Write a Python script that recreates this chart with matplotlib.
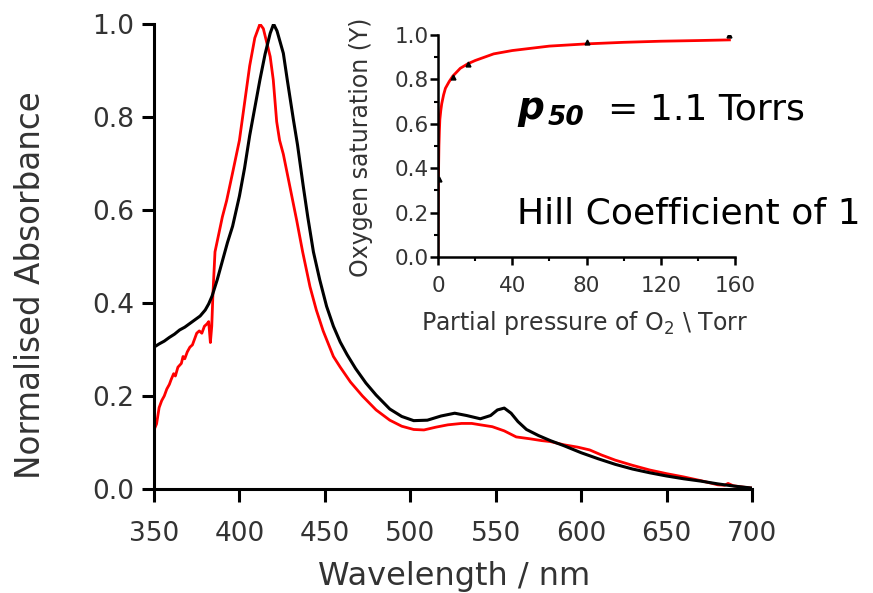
import matplotlib
matplotlib.use("Agg")
import matplotlib.pyplot as plt
from matplotlib.ticker import MultipleLocator

# ---- main spectra (wavelength / nm, normalised absorbance) ----
wl_black = [350, 353, 356, 359, 362, 365, 368, 371, 374, 377, 380, 382, 384, 387, 390,
            393, 396, 400, 403, 406, 409, 412, 415, 418, 420, 422, 425.7, 428, 431.6, 434,
            437.4, 440, 443.3, 447, 451, 455, 459, 463, 468, 474, 480, 488, 495, 502, 510,
            518, 526, 533, 541, 547, 551, 555, 559, 563, 568, 575, 582, 590, 600, 610,
            620, 630, 640, 650, 660, 670, 680, 690, 700]
abs_black = [0.305, 0.312, 0.318, 0.326, 0.333, 0.342, 0.348, 0.356, 0.364, 0.372, 0.385, 0.398,
             0.415, 0.45, 0.49, 0.53, 0.565, 0.63, 0.69, 0.76, 0.82, 0.88, 0.935, 0.98, 1.0,
             0.985, 0.937, 0.88, 0.794, 0.74, 0.65, 0.585, 0.51, 0.45, 0.393, 0.35, 0.316,
             0.289, 0.259, 0.228, 0.202, 0.172, 0.156, 0.147, 0.148, 0.157, 0.163, 0.158, 0.151,
             0.158, 0.17, 0.174, 0.163, 0.145, 0.128, 0.115, 0.104, 0.093, 0.078, 0.065,
             0.053, 0.043, 0.035, 0.028, 0.022, 0.017, 0.011, 0.006, 0.002]

wl_red = [350, 351.5, 353, 354.5, 356, 357.5, 359, 360, 361.5, 362.5, 364, 366, 367, 368,
          369.5, 371, 372.5, 374, 375, 376.5, 378, 379.5, 381, 382, 383, 383.8, 384.5, 385.7,
          388, 390, 392.5, 396, 400, 403, 406, 409, 412, 414, 416, 418, 419.8, 421.8, 423.5,
          425.7, 429, 433.5, 437, 441.3, 445, 449, 455, 459, 465, 472, 480, 488, 495, 502,
          508, 515, 522, 530, 536, 541, 548, 555, 562, 570, 577, 582, 590, 598, 605, 612,
          620, 630, 640, 650, 660, 670, 680, 684, 686, 689, 695, 700]
abs_red = [0.127, 0.14, 0.175, 0.19, 0.2, 0.215, 0.225, 0.235, 0.248, 0.243, 0.262, 0.27,
           0.285, 0.28, 0.295, 0.305, 0.31, 0.325, 0.335, 0.34, 0.335, 0.35, 0.355, 0.36,
           0.315, 0.35, 0.42, 0.51, 0.55, 0.585, 0.62, 0.68, 0.75, 0.83, 0.91, 0.97, 1.0,
           0.99, 0.96, 0.93, 0.88, 0.79, 0.75, 0.72, 0.66, 0.578, 0.51, 0.435, 0.385, 0.34,
           0.285, 0.262, 0.23, 0.2, 0.17, 0.148, 0.135, 0.128, 0.127, 0.133, 0.138, 0.141,
           0.141, 0.138, 0.134, 0.125, 0.112, 0.108, 0.104, 0.102, 0.095, 0.09, 0.084, 0.073,
           0.062, 0.051, 0.041, 0.033, 0.026, 0.018, 0.009, 0.008, 0.012, 0.007, 0.004, 0.002]

# ---- inset: oxygen binding curve ----
po2_fit = [0, 0.1, 0.2, 0.35, 0.5, 0.75, 1, 1.5, 2, 3, 4, 6, 8, 12, 16, 20, 30, 40, 60,
           80, 100, 120, 140, 157]
sat_fit = [0, 0.18, 0.3, 0.42, 0.5, 0.57, 0.62, 0.66, 0.69, 0.73, 0.76, 0.79, 0.815, 0.85,
           0.87, 0.885, 0.915, 0.93, 0.95, 0.96, 0.967, 0.972, 0.975, 0.978]
po2_pts = [0.6, 8, 16, 80, 157]
sat_pts = [0.35, 0.81, 0.87, 0.97, 1.0]

W, H = 873, 593
fig = plt.figure(figsize=(W / 100, H / 100), dpi=100)
grey = '#333333'

def px(x, y):
    return x / W, 1 - y / H

# main axes
ax = fig.add_axes([154 / W, 1 - 489 / H, (752 - 154) / W, (489 - 24) / H])
ax.plot(wl_black, abs_black, color='black', lw=2.2, zorder=3)
ax.plot(wl_red, abs_red, color='#ff0000', lw=2.0, zorder=2)
ax.set_xlim(350, 700)
ax.set_ylim(0, 1.0)
ax.set_xticks([350, 400, 450, 500, 550, 600, 650, 700])
ax.set_yticks([0.0, 0.2, 0.4, 0.6, 0.8, 1.0])
ax.set_yticklabels(['0.0', '0.2', '0.4', '0.6', '0.8', '1.0'])
for s in ['top', 'right']:
    ax.spines[s].set_visible(False)
for s in ['left', 'bottom']:
    ax.spines[s].set_linewidth(2.2)
ax.tick_params(axis='both', direction='out', length=9, width=2.2, labelsize=19,
               labelcolor=grey)
ax.tick_params(axis='x', pad=14)
ax.tick_params(axis='y', pad=5)
fig.text(*px(454, 576), 'Wavelength / nm', fontsize=23, color=grey, ha='center', va='center')
fig.text(*px(31, 285), 'Normalised Absorbance', fontsize=23.5, color=grey, ha='center',
         va='center', rotation=90)

# inset axes
ins = fig.add_axes([438 / W, 1 - 257 / H, (735 - 438) / W, (257 - 35) / H])
ins.plot(po2_fit, sat_fit, color='#ff0000', lw=2.0, zorder=2)
ins.plot(po2_pts, sat_pts, ls='none', marker='^', ms=3.5, color='black', zorder=3)
ins.set_xlim(0, 160)
ins.set_ylim(0, 1.0)
ins.xaxis.set_major_locator(MultipleLocator(40))
ins.xaxis.set_minor_locator(MultipleLocator(20))
ins.yaxis.set_major_locator(MultipleLocator(0.2))
ins.yaxis.set_minor_locator(MultipleLocator(0.1))
ins.set_yticks([0.0, 0.2, 0.4, 0.6, 0.8, 1.0])
ins.set_yticklabels(['0.0', '0.2', '0.4', '0.6', '0.8', '1.0'])
ins.patch.set_alpha(0)
for s in ['top', 'right']:
    ins.spines[s].set_visible(False)
for s in ['left', 'bottom']:
    ins.spines[s].set_linewidth(1.8)
ins.tick_params(axis='both', which='major', direction='out', length=5.5, width=1.8,
                labelsize=15.5, labelcolor=grey)
ins.tick_params(axis='both', which='minor', direction='out', length=3, width=1.5)
ins.tick_params(axis='x', pad=8)
ins.tick_params(axis='y', pad=1)
fig.text(*px(585, 323), 'Partial pressure of O$_2$ \\ Torr', fontsize=17, color=grey,
         ha='center', va='center')
fig.text(*px(361, 147), 'Oxygen saturation (Y)', fontsize=17, color=grey, ha='center',
         va='center', rotation=90)

# annotations
fig.text(*px(517, 119), 'p', fontsize=27, fontweight='bold', style='italic', va='baseline')
fig.text(*px(548, 125), '50', fontsize=19, fontweight='bold', style='italic', va='baseline')
fig.text(*px(608, 120), '= 1.1 Torrs', fontsize=26, va='baseline')
fig.text(*px(517, 224), 'Hill Coefficient of 1', fontsize=26, va='baseline')

fig.savefig('out.png', dpi=100)
